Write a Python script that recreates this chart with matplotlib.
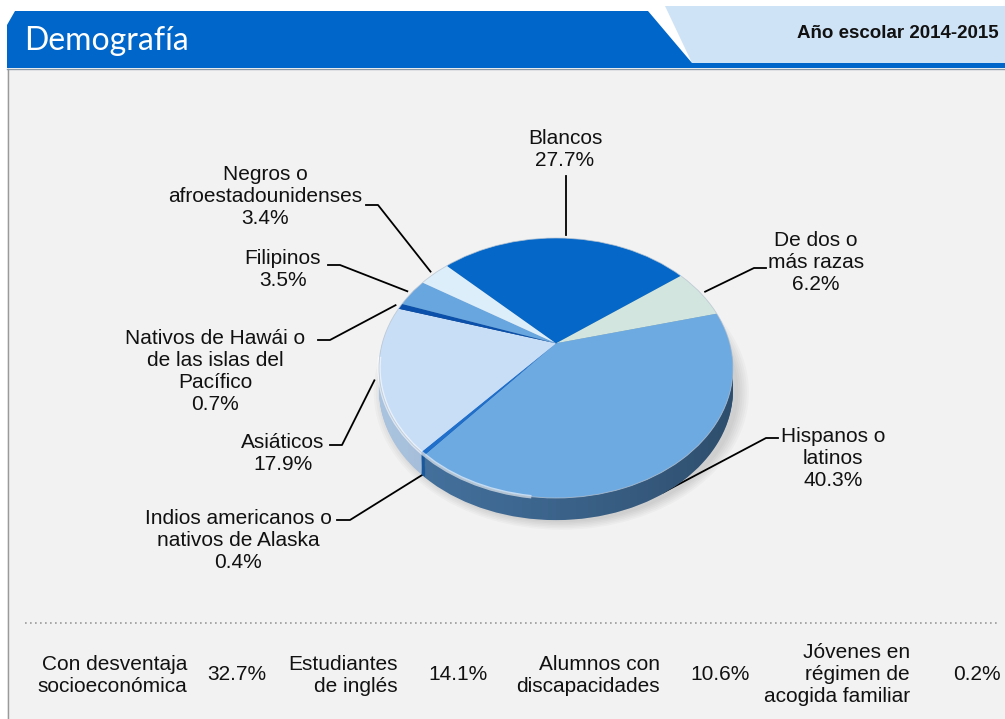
import numpy as np
import matplotlib
matplotlib.use("Agg")
import matplotlib.pyplot as plt
from matplotlib.patches import Polygon, Rectangle, Circle, Ellipse, Arc, PathPatch
from matplotlib.path import Path

plt.rcParams['font.family'] = ['Liberation Sans', 'DejaVu Sans']

# pie data (clockwise from the top-left edge of "Blancos")
groups = ["Blancos", "De dos o\nmás razas", "Hispanos o\nlatinos",
          "Indios americanos o\nnativos de Alaska", "Asiáticos",
          "Nativos de Hawái o\nde las islas del\nPacífico", "Filipinos",
          "Negros o\nafroestadounidenses"]
shares = [27.7, 6.2, 40.3, 0.4, 17.9, 0.7, 3.5, 3.4]

# bottom row
stat_labels = ["Con desventaja\nsocioeconómica", "Estudiantes\nde inglés",
               "Alumnos con\ndiscapacidades", "Jóvenes en\nrégimen de\nacogida familiar"]
stat_values = [32.7, 14.1, 10.6, 0.2]

top_colors = ['#0568c8', '#d2e6df', '#6eaae2', '#1f6fcb',
              '#c8def7', '#0b50aa', '#68a6e0', '#ddeefb']
side_colors = ['#034a91', '#98aaa4', '#44729f', '#1a5aa0',
               '#a9c2de', '#083a7c', '#3f6f9c', '#a2b5c6']

# label layout in pixels: block centre, and the short horizontal stub (x0, y, x1)
label_pos = [(565, 150), (816, 262), (833, 458), (238, 540),
             (283, 453), (215, 371), (283, 269), (265, 197)]
stubs = [None, (766, 268, 754), (778, 438, 766), (337, 520, 350),
         (330, 445, 342), (318, 340, 330), (328, 265, 340), (366, 205, 378)]

W, H = 1005, 719
fig = plt.figure(figsize=(W / 100, H / 100), dpi=100)
fig.patch.set_facecolor('white')
ax = fig.add_axes([0, 0, 1, 1], zorder=0)
ax.set_xlim(0, W)
ax.set_ylim(H, 0)
ax.axis('off')

# panel + header
ax.add_patch(Rectangle((7, 69), W - 7, H - 69, facecolor='#f2f2f2', edgecolor='none'))
ax.plot([7.5, 7.5], [69, H], color='#9a9a9a', lw=1)
ax.add_patch(Polygon([(665, 6), (W, 6), (W, 63), (692, 63)], closed=True,
                     facecolor='#cfe3f6', edgecolor='none'))
ax.add_patch(Polygon([(7, 25), (15, 11), (648, 11), (692, 63), (W, 63), (W, 68), (7, 68)],
                     closed=True, facecolor='#0066c9', edgecolor='none'))
ax.plot([7, W], [68.7, 68.7], color='#8c9aa8', lw=1)
ax.text(24, 41, "Demografía", color='white', fontsize=23, family=['Lato', 'DejaVu Sans'],
        va='center', ha='left')
ax.text(999, 34, "Año escolar 2014-2015", color='#111111', fontsize=13.5,
        fontweight='bold', va='center', ha='right')

# 3D-looking pie
cx, cy, rx, ry = 556, 368, 177, 130     # ellipse centre and radii (px)
apex = 0.19                              # apex sits above the ellipse centre
depth = 0.17
xl, yl = (-1.1, 1.1), (-1.37, 1.1)
left = cx + xl[0] * rx
top = cy - yl[1] * ry
axw = (xl[1] - xl[0]) * rx
axh = (yl[1] - yl[0]) * ry
ax_pie = fig.add_axes([left / W, (H - top - axh) / H, axw / W, axh / H], zorder=1)
ax_pie.patch.set_alpha(0)

start = 136
# soft shadow
for k in range(6):
    s = 1.0 + 0.012 * k
    ax_pie.add_patch(Ellipse((0.03, -depth - 0.015), 2 * s, 2 * s, facecolor='black',
                             alpha=0.025, edgecolor='none', zorder=0.5))

layers = np.linspace(depth, 0.0, 22)
for i, d in enumerate(layers):
    is_top = i == len(layers) - 1
    cols = top_colors if is_top else side_colors
    wedges, _ = ax_pie.pie(shares, colors=cols, center=(0, apex - d), radius=1.6,
                           startangle=start, counterclock=False,
                           wedgeprops=dict(linewidth=0))
    clip = Circle((0, -d), 1.0, transform=ax_pie.transData)
    for w in wedges:
        w.set_clip_on(True)
        w.set_clip_path(clip)
        w.set_zorder(3 if is_top else 1)

# darker toward the right on the side wall
tt = np.linspace(np.pi, 2 * np.pi, 80)
side_path = Path(np.vstack([np.c_[np.cos(tt), np.sin(tt) - depth],
                            np.c_[np.cos(tt[::-1]), np.sin(tt[::-1])]]))
side_patch = PathPatch(side_path, transform=ax_pie.transData, facecolor='none', edgecolor='none')
ax_pie.add_patch(side_patch)
grad = np.linspace(0, 1, 256).reshape(1, -1)
img = ax_pie.imshow(np.dstack([np.zeros((1, 256, 3)), 0.32 * grad[..., None] ** 1.3]),
                    extent=(-1, 1, -1 - depth, 0.2), aspect='auto', zorder=2,
                    interpolation='bilinear')
img.set_clip_path(side_patch)

ax_pie.add_patch(Arc((0, 0), 2, 2, theta1=175, theta2=262, color='white', lw=2.5,
                     alpha=0.6, zorder=4))
ax_pie.add_patch(Arc((0, 0), 2, 2, theta1=0, theta2=360, color='#b8c4d0', lw=0.6,
                     alpha=0.8, zorder=4))
ax_pie.set_xlim(*xl)
ax_pie.set_ylim(*yl)
ax_pie.set_aspect('auto')
ax_pie.axis('off')

# labels and leader lines
total = sum(shares)
cum = np.cumsum([0] + shares[:-1])
to_px = lambda p: ax.transData.inverted().transform(ax_pie.transData.transform(p))
for name, v, c, (tx, ty), stub in zip(groups, shares, cum, label_pos, stubs):
    mid = np.radians(start - 360 * (c + v / 2) / total)
    sn, cs = np.sin(mid), np.cos(mid)
    t = -apex * sn + np.sqrt(apex ** 2 * sn ** 2 - apex ** 2 + 1)
    r = 1.03
    px, py = t * cs * r, apex + t * sn * r
    if sn < -0.5:
        px, py = t * cs, apex + t * sn - depth * 0.95
    ex, ey = to_px((px, py))
    if stub is None:
        ax.plot([ex, ex], [176, ey], color='black', lw=1.3)
    else:
        x0, y0, x1 = stub
        ax.plot([x0, x1, ex], [y0, y0, ey], color='black', lw=1.3)
    ax.text(tx, ty, "{}\n{}%".format(name, v), ha='center', va='center',
            fontsize=15, linespacing=1.2, color='#111111')

# dotted separator and bottom row
ax.plot([25, 1000], [623, 623], color='#9a9a9a', lw=1.2, linestyle=(0, (1, 2)))
lab_x = [187, 398, 660, 910]
val_x = [237, 458, 720, 977]
for lab, val, lx, vx in zip(stat_labels, stat_values, lab_x, val_x):
    ax.text(lx, 675, lab, ha='right', va='center', multialignment='right',
            fontsize=15, linespacing=1.2, color='#111111')
    ax.text(vx, 675, "{}%".format(val), ha='center', va='center', fontsize=15, color='#111111')

fig.savefig("out.png", dpi=100, facecolor=fig.get_facecolor())
